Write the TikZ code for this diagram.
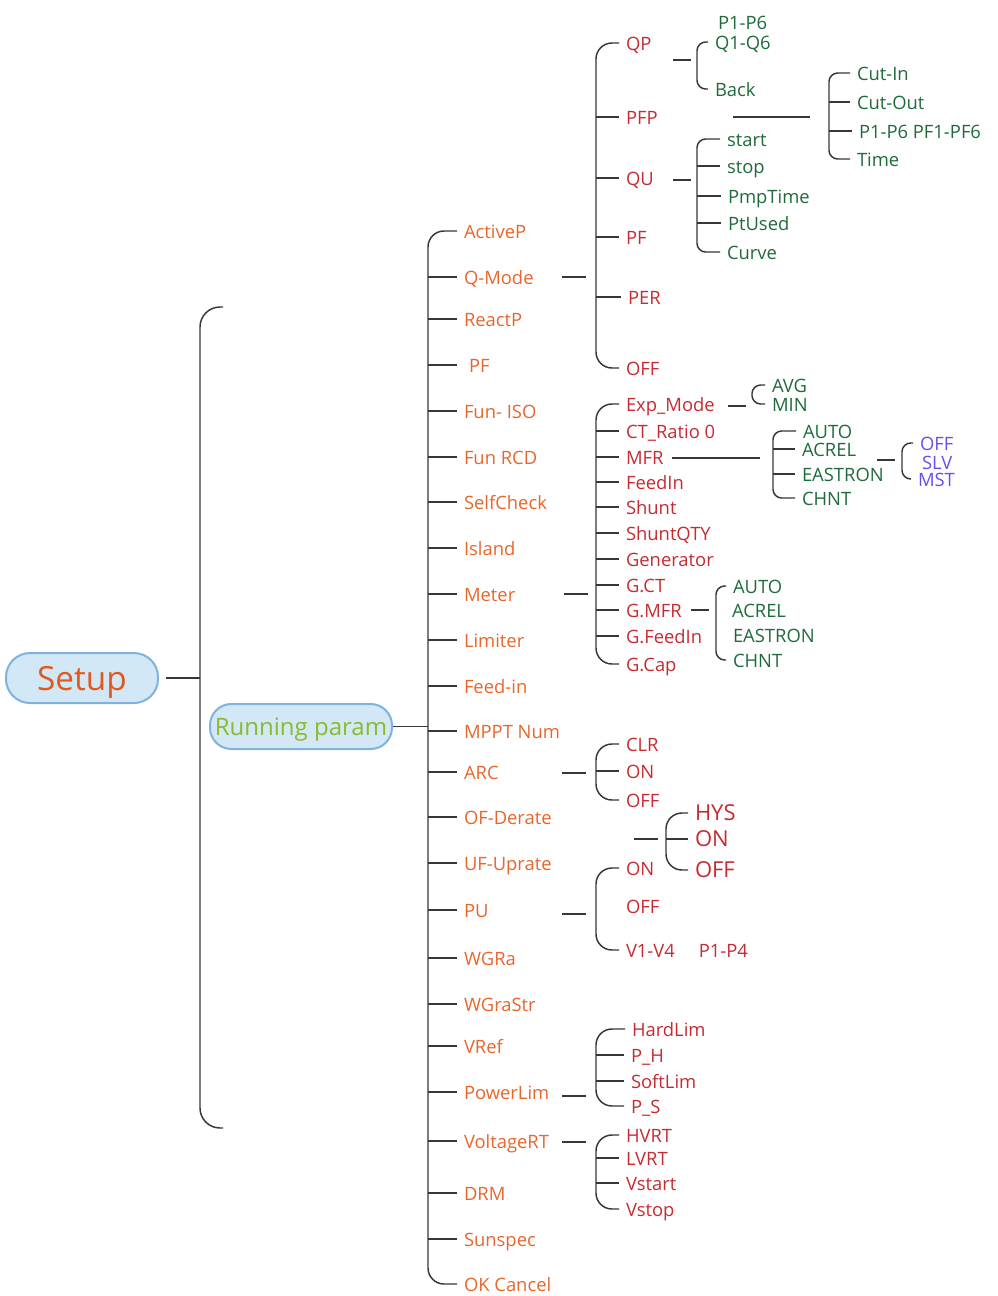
\documentclass[tikz,border=0pt]{standalone}
\usepackage{fontspec}
\setmainfont{Open Sans}
\definecolor{orng}{HTML}{E8652B}
\definecolor{redc}{HTML}{C62A32}
\definecolor{grnc}{HTML}{1E6B3A}
\definecolor{purp}{HTML}{6A4CF0}
\definecolor{setupc}{HTML}{E05A1E}
\definecolor{rungrn}{HTML}{8BBA2E}
\definecolor{nfill}{HTML}{D2E8F6}
\definecolor{ndraw}{HTML}{7FB3DD}
\definecolor{linec}{HTML}{3B3535}
\tikzset{
  ln/.style={draw=linec, line width=1.1pt},
  brk/.style={ln, rounded corners=12pt},
  sbrk/.style={ln, rounded corners=6.5pt},
  lbl/.style={anchor=west, inner sep=0pt, outer xsep=5.25pt, text height=1.05em, text depth=0pt,
              font=\fontsize{13.8}{16}\selectfont},
  lvtwo/.style={lbl, text=orng},
  lvthree/.style={lbl, text=redc},
  lvfour/.style={lbl, text=grnc},
  lvfive/.style={lbl, text=purp},
  root/.style={draw=ndraw, fill=nfill, line width=1.5pt, inner sep=0pt, text depth=0pt}
}
\begin{document}
\begin{tikzpicture}[x=0.75pt, y=-0.75pt]
\useasboundingbox (0,0) rectangle (998,1296);
\node[root, minimum width=114pt, minimum height=37.5pt, rounded corners=18pt, outer xsep=6pt, text=setupc,
      font=\fontsize{25}{30}\selectfont] (setup) at (82,678) {Setup};
\node[root, minimum width=136.5pt, minimum height=33.75pt, rounded corners=16pt, text=rungrn,
      font=\fontsize{18}{22}\selectfont] (runp) at (301,726.5) {Running param};

\node[lvtwo] (actp) at (457,231) {ActiveP};
\node[lvtwo] (qmode) at (457,277) {Q-Mode};
\node[lvtwo] (reactp) at (457,319) {ReactP};
\node[lvtwo] (pftwo) at (462,365) {PF};
\node[lvtwo] (funiso) at (457,411) {Fun- ISO};
\node[lvtwo] (funrcd) at (457,457) {Fun RCD};
\node[lvtwo] (selfck) at (457,502) {SelfCheck};
\node[lvtwo] (island) at (457,548) {Island};
\node[lvtwo] (meter) at (457,594) {Meter};
\node[lvtwo] (limiter) at (457,640) {Limiter};
\node[lvtwo] (feedin) at (457,686) {Feed-in};
\node[lvtwo] (mppt) at (457,731) {MPPT Num};
\node[lvtwo] (arc) at (457,772) {ARC};
\node[lvtwo] (ofder) at (457,817) {OF-Derate};
\node[lvtwo] (ufupr) at (457,863) {UF-Uprate};
\node[lvtwo] (pu) at (457,910) {PU};
\node[lvtwo] (wgra) at (457,958) {WGRa};
\node[lvtwo] (wgrastr) at (457,1004) {WGraStr};
\node[lvtwo] (vref) at (457,1046) {VRef};
\node[lvtwo] (powlim) at (457,1092) {PowerLim};
\node[lvtwo] (voltrt) at (457,1141) {VoltageRT};
\node[lvtwo] (drm) at (457,1193) {DRM};
\node[lvtwo] (sunspec) at (457,1239) {Sunspec};
\node[lvtwo] (okc) at (457,1284) {OK Cancel};

\node[lvthree] (qp) at (619,43) {QP};
\node[lvthree] (pfp) at (619,117) {PFP};
\node[lvthree] (qu) at (619,178) {QU};
\node[lvthree] (pfthree) at (619,237) {PF};
\node[lvthree] (per) at (621,297) {PER};
\node[lvthree] (qmoff) at (619,368) {OFF};

\node[lvfour] (pq1) at (711,22) {P1-P6};
\node[lvfour] (pq2) at (708,42) {Q1-Q6};
\node[lvfour] (back) at (708,89) {Back};
\node[lvfour] (cutin) at (850,73) {Cut-In};
\node[lvfour] (cutout) at (850,102) {Cut-Out};
\node[lvfour] (ppf) at (852,131) {P1-P6 PF1-PF6};
\node[lvfour] (time) at (850,159) {Time};
\node[lvfour] (start) at (720,139) {start};
\node[lvfour] (stop) at (720,166) {stop};
\node[lvfour] (pmpt) at (721,196) {PmpTime};
\node[lvfour] (ptused) at (721,223) {PtUsed};
\node[lvfour] (curve) at (720,252) {Curve};

\node[lvthree] (expm) at (619,404) {Exp\_Mode};
\node[lvthree] (ctr) at (619,431) {CT\_Ratio 0};
\node[lvthree] (mfr) at (619,457) {MFR};
\node[lvthree] (mfeed) at (619,482) {FeedIn};
\node[lvthree] (shunt) at (619,507) {Shunt};
\node[lvthree] (shqty) at (619,533) {ShuntQTY};
\node[lvthree] (gen) at (619,559) {Generator};
\node[lvthree] (gct) at (619,585) {G.CT};
\node[lvthree] (gmfr) at (619,610) {G.MFR};
\node[lvthree] (gfeed) at (619,636) {G.FeedIn};
\node[lvthree] (gcap) at (619,664) {G.Cap};

\node[lvfour] (avg) at (765,385) {AVG};
\node[lvfour] (min) at (765,404) {MIN};
\node[lvfour] (mauto) at (796,431) {AUTO};
\node[lvfour] (macrel) at (795,449) {ACREL};
\node[lvfour] (meast) at (795,474) {EASTRON};
\node[lvfour] (mchnt) at (795,498) {CHNT};
\node[lvfive] (soff) at (913,443) {OFF};
\node[lvfive] (sslv) at (915,462) {SLV};
\node[lvfive] (smst) at (911,479) {MST};
\node[lvfour] (gauto) at (726,586) {AUTO};
\node[lvfour] (gacrel) at (725,610) {ACREL};
\node[lvfour] (geast) at (726,635) {EASTRON};
\node[lvfour] (gchnt) at (726,660) {CHNT};

\node[lvthree] (clr) at (619,744) {CLR};
\node[lvthree] (arcon) at (619,771) {ON};
\node[lvthree] (arcoff) at (619,800) {OFF};
\node[lvthree, font=\fontsize{16.5}{20}\selectfont] (hys) at (688,813) {HYS};
\node[lvthree, font=\fontsize{16.5}{20}\selectfont] (hyson) at (688,839) {ON};
\node[lvthree, font=\fontsize{16.5}{20}\selectfont] (hysoff) at (688,870) {OFF};
\node[lvthree] (puon) at (619,868) {ON};
\node[lvthree] (puoff) at (619,906) {OFF};
\node[lvthree] (puvp) at (619,950) {V1-V4\hspace{1.3em}P1-P4};
\node[lvthree] (hardl) at (625,1029) {HardLim};
\node[lvthree] (ph) at (624,1055) {P\_H};
\node[lvthree] (softl) at (624,1081) {SoftLim};
\node[lvthree] (ps) at (624,1106) {P\_S};
\node[lvthree] (hvrt) at (619,1135) {HVRT};
\node[lvthree] (lvrt) at (619,1158) {LVRT};
\node[lvthree] (vstart) at (619,1183) {Vstart};
\node[lvthree] (vstop) at (619,1209) {Vstop};

\coordinate (s1) at (200,678);
\coordinate (stT) at (223,307); \coordinate (stB) at (223,1128);
\coordinate (s2) at (428,0); \coordinate (s3) at (596,0);
\coordinate (qpS) at (697,0); \coordinate (cutS) at (829,0); \coordinate (quS) at (697,0);
\coordinate (expS) at (752,0); \coordinate (mfrS) at (773,0); \coordinate (purS) at (902,0);
\coordinate (gmS) at (716,0); \coordinate (hysS) at (666,0);
\coordinate (qmA) at (562,277); \coordinate (qmB) at (586,277);
\coordinate (qpA) at (673,60); \coordinate (qpB) at (691,60);
\coordinate (pfpA) at (733,117); \coordinate (pfpB) at (810,117);
\coordinate (quA) at (673,180); \coordinate (quB) at (691,180);
\coordinate (mtA) at (564,594); \coordinate (mtB) at (588,594);
\coordinate (exA) at (728,406); \coordinate (exB) at (746,406);
\coordinate (mfA) at (672,458); \coordinate (mfB) at (760,458);
\coordinate (puA) at (877,460); \coordinate (puB) at (895,460);
\coordinate (gmA) at (691,610); \coordinate (gmB) at (709,610);
\coordinate (arA) at (562,773); \coordinate (arB) at (586,773);
\coordinate (hyA) at (634,839); \coordinate (hyB) at (658,839);
\coordinate (pvA) at (562,914); \coordinate (pvB) at (586,914);
\coordinate (plA) at (562,1096); \coordinate (plB) at (586,1096);
\coordinate (vrA) at (562,1142); \coordinate (vrB) at (586,1142);

\draw[ln, rounded corners=15pt] (stT) -| (stB -| s1) -- (stB);
\draw[ln] (setup.east) -- (s1);
\draw[ln] (runp.east) -- (runp.east -| s2);

\draw[brk] (actp.west) -| (okc.west -| s2) -- (okc.west);
\draw[ln] (qmode.west -| s2) -- (qmode.west); \draw[ln] (reactp.west -| s2) -- (reactp.west);
\draw[ln] (pftwo.west -| s2) -- ([xshift=-3.75pt]pftwo.west); \draw[ln] (funiso.west -| s2) -- (funiso.west);
\draw[ln] (funrcd.west -| s2) -- (funrcd.west); \draw[ln] (selfck.west -| s2) -- (selfck.west);
\draw[ln] (island.west -| s2) -- (island.west); \draw[ln] (meter.west -| s2) -- (meter.west);
\draw[ln] (limiter.west -| s2) -- (limiter.west); \draw[ln] (feedin.west -| s2) -- (feedin.west);
\draw[ln] (mppt.west -| s2) -- (mppt.west); \draw[ln] (arc.west -| s2) -- (arc.west);
\draw[ln] (ofder.west -| s2) -- (ofder.west); \draw[ln] (ufupr.west -| s2) -- (ufupr.west);
\draw[ln] (pu.west -| s2) -- (pu.west); \draw[ln] (wgra.west -| s2) -- (wgra.west);
\draw[ln] (wgrastr.west -| s2) -- (wgrastr.west); \draw[ln] (vref.west -| s2) -- (vref.west);
\draw[ln] (powlim.west -| s2) -- (powlim.west); \draw[ln] (voltrt.west -| s2) -- (voltrt.west);
\draw[ln] (drm.west -| s2) -- (drm.west); \draw[ln] (sunspec.west -| s2) -- (sunspec.west);

\draw[ln] (qmA) -- (qmB);
\draw[brk] (qp.west) -| (qmoff.west -| s3) -- (qmoff.west);
\draw[ln] (pfp.west -| s3) -- (pfp.west); \draw[ln] (qu.west -| s3) -- (qu.west);
\draw[ln] (pfthree.west -| s3) -- (pfthree.west); \draw[ln] (per.west -| s3) -- (per.west);
\draw[ln] (qpA) -- (qpB);
\draw[sbrk] (pq2.west) -| (back.west -| qpS) -- (back.west);
\draw[ln] (pfpA) -- (pfpB);
\draw[sbrk] (cutin.west) -| (time.west -| cutS) -- (time.west);
\draw[ln] (cutout.west -| cutS) -- (cutout.west); \draw[ln] (ppf.west -| cutS) -- (ppf.west);
\draw[ln] (quA) -- (quB);
\draw[sbrk] (start.west) -| (curve.west -| quS) -- (curve.west);
\draw[ln] (stop.west -| quS) -- (stop.west); \draw[ln] (pmpt.west -| quS) -- (pmpt.west);
\draw[ln] (ptused.west -| quS) -- (ptused.west);

\draw[ln] (mtA) -- (mtB);
\draw[brk] (expm.west) -| (gcap.west -| s3) -- (gcap.west);
\draw[ln] (ctr.west -| s3) -- (ctr.west); \draw[ln] (mfr.west -| s3) -- (mfr.west);
\draw[ln] (mfeed.west -| s3) -- (mfeed.west); \draw[ln] (shunt.west -| s3) -- (shunt.west);
\draw[ln] (shqty.west -| s3) -- (shqty.west); \draw[ln] (gen.west -| s3) -- (gen.west);
\draw[ln] (gct.west -| s3) -- (gct.west); \draw[ln] (gmfr.west -| s3) -- (gmfr.west);
\draw[ln] (gfeed.west -| s3) -- (gfeed.west);
\draw[ln] (exA) -- (exB);
\draw[sbrk] (avg.west) -| (min.west -| expS) -- (min.west);
\draw[ln] (mfA) -- (mfB);
\draw[sbrk] (mauto.west) -| (mchnt.west -| mfrS) -- (mchnt.west);
\draw[ln] (macrel.west -| mfrS) -- (macrel.west); \draw[ln] (meast.west -| mfrS) -- (meast.west);
\draw[ln] (puA) -- (puB);
\draw[sbrk] (soff.west) -| (smst.west -| purS) -- (smst.west);
\draw[ln] (gmA) -- (gmB);
\draw[sbrk] (gauto.west) -| (gchnt.west -| gmS) -- (gchnt.west);

\draw[ln] (arA) -- (arB);
\draw[brk] (clr.west) -| (arcoff.west -| s3) -- (arcoff.west);
\draw[ln] (arcon.west -| s3) -- (arcon.west);
\draw[ln] (hyA) -- (hyB);
\draw[brk] (hys.west) -| (hysoff.west -| hysS) -- (hysoff.west);
\draw[ln] (hyson.west -| hysS) -- (hyson.west);
\draw[ln] (pvA) -- (pvB);
\draw[brk] (puon.west) -| (puvp.west -| s3) -- (puvp.west);
\draw[ln] (plA) -- (plB);
\draw[brk] (hardl.west) -| (ps.west -| s3) -- (ps.west);
\draw[ln] (ph.west -| s3) -- (ph.west); \draw[ln] (softl.west -| s3) -- (softl.west);
\draw[ln] (vrA) -- (vrB);
\draw[brk] (hvrt.west) -| (vstop.west -| s3) -- (vstop.west);
\draw[ln] (lvrt.west -| s3) -- (lvrt.west); \draw[ln] (vstart.west -| s3) -- (vstart.west);
\end{tikzpicture}
\end{document}
